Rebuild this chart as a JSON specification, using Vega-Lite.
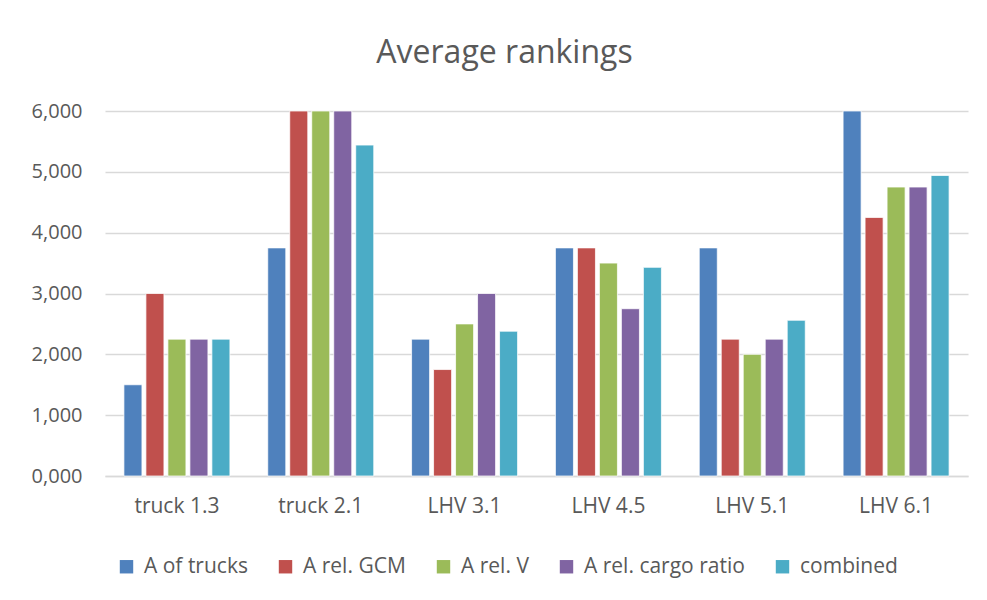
{
  "$schema": "https://vega.github.io/schema/vega-lite/v6.json",
  "autosize": "none",
  "width": 863,
  "height": 365,
  "padding": {"left": 105, "top": 111, "right": 19, "bottom": 124},
  "background": "white",
  "title": {
    "text": "Average rankings",
    "font": "Open Sans",
    "fontSize": 32,
    "fontWeight": "normal",
    "color": "#595959",
    "anchor": "middle",
    "dx": -32,
    "offset": 31
  },
  "data": {
    "values": [
      {"cat": "truck 1.3", "series": "A of trucks", "value": 1.5},
      {"cat": "truck 1.3", "series": "A rel. GCM", "value": 3.0},
      {"cat": "truck 1.3", "series": "A rel. V", "value": 2.25},
      {"cat": "truck 1.3", "series": "A rel. cargo ratio", "value": 2.25},
      {"cat": "truck 1.3", "series": "combined", "value": 2.25},
      {"cat": "truck 2.1", "series": "A of trucks", "value": 3.75},
      {"cat": "truck 2.1", "series": "A rel. GCM", "value": 6.0},
      {"cat": "truck 2.1", "series": "A rel. V", "value": 6.0},
      {"cat": "truck 2.1", "series": "A rel. cargo ratio", "value": 6.0},
      {"cat": "truck 2.1", "series": "combined", "value": 5.44},
      {"cat": "LHV 3.1", "series": "A of trucks", "value": 2.25},
      {"cat": "LHV 3.1", "series": "A rel. GCM", "value": 1.75},
      {"cat": "LHV 3.1", "series": "A rel. V", "value": 2.5},
      {"cat": "LHV 3.1", "series": "A rel. cargo ratio", "value": 3.0},
      {"cat": "LHV 3.1", "series": "combined", "value": 2.38},
      {"cat": "LHV 4.5", "series": "A of trucks", "value": 3.75},
      {"cat": "LHV 4.5", "series": "A rel. GCM", "value": 3.75},
      {"cat": "LHV 4.5", "series": "A rel. V", "value": 3.5},
      {"cat": "LHV 4.5", "series": "A rel. cargo ratio", "value": 2.75},
      {"cat": "LHV 4.5", "series": "combined", "value": 3.43},
      {"cat": "LHV 5.1", "series": "A of trucks", "value": 3.75},
      {"cat": "LHV 5.1", "series": "A rel. GCM", "value": 2.25},
      {"cat": "LHV 5.1", "series": "A rel. V", "value": 2.0},
      {"cat": "LHV 5.1", "series": "A rel. cargo ratio", "value": 2.25},
      {"cat": "LHV 5.1", "series": "combined", "value": 2.56},
      {"cat": "LHV 6.1", "series": "A of trucks", "value": 6.0},
      {"cat": "LHV 6.1", "series": "A rel. GCM", "value": 4.25},
      {"cat": "LHV 6.1", "series": "A rel. V", "value": 4.75},
      {"cat": "LHV 6.1", "series": "A rel. cargo ratio", "value": 4.75},
      {"cat": "LHV 6.1", "series": "combined", "value": 4.94}
    ]
  },
  "mark": {"type": "bar", "stroke": "white", "strokeWidth": 0.75},
  "encoding": {
    "x": {
      "field": "cat",
      "type": "nominal",
      "sort": null,
      "scale": {"paddingInner": 0.263, "paddingOuter": 0.1315},
      "axis": {
        "title": null,
        "labelAngle": 0,
        "labelFont": "Open Sans",
        "labelFontSize": 21,
        "labelColor": "#595959",
        "labelPadding": 19,
        "ticks": false,
        "domainColor": "#D9D9D9",
        "domainWidth": 1.5
      }
    },
    "xOffset": {
      "field": "series",
      "type": "nominal",
      "sort": null,
      "scale": {"paddingInner": 0.18, "paddingOuter": 0}
    },
    "y": {
      "field": "value",
      "type": "quantitative",
      "scale": {"domain": [0, 6], "nice": false},
      "axis": {
        "title": null,
        "values": [0, 1, 2, 3, 4, 5, 6],
        "labelExpr": "replace(format(datum.value, '.3f'), '.', ',')",
        "labelFont": "Open Sans",
        "labelFontSize": 20,
        "labelColor": "#595959",
        "labelPadding": 23,
        "ticks": false,
        "domain": false,
        "grid": true,
        "gridColor": "#D9D9D9",
        "gridWidth": 1.5
      }
    },
    "color": {
      "field": "series",
      "type": "nominal",
      "sort": null,
      "scale": {
        "domain": ["A of trucks", "A rel. GCM", "A rel. V", "A rel. cargo ratio", "combined"],
        "range": ["#4F81BD", "#C0504D", "#9BBB59", "#8064A2", "#4BACC6"]
      },
      "legend": {
        "title": null,
        "orient": "none",
        "direction": "horizontal",
        "legendX": 11,
        "legendY": 445,
        "symbolType": "square",
        "symbolSize": 180,
        "symbolStrokeWidth": 0,
        "labelFont": "Open Sans",
        "labelFontSize": 21,
        "labelColor": "#595959",
        "labelOffset": 7,
        "labelLimit": 300,
        "columnPadding": 27
      }
    }
  },
  "config": {"view": {"stroke": null}}
}
